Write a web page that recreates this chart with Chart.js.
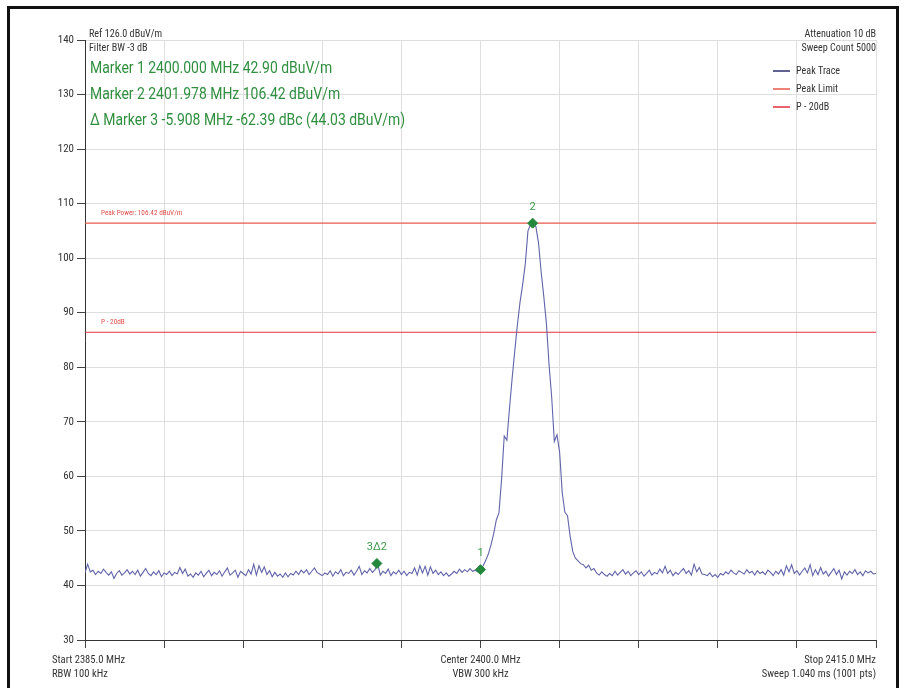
<!DOCTYPE html>
<html>
<head>
<meta charset="utf-8">
<title>Spectrum</title>
<script src="https://cdn.jsdelivr.net/npm/chart.js@4.4.1/dist/chart.umd.min.js"></script>
<style>
  html, body { margin: 0; padding: 0; background: #fff; }
  #wrap { width: 906px; height: 688px; }
</style>
</head>
<body>
<div id="wrap"><canvas id="grafico" width="906" height="688"></canvas></div>
<script>
// sweep settings
const freqStart = 2385.0;
const freqStop = 2415.0;
const freqStep = 0.1;
const xTickStep = 3;
const levelMin = 30;
const levelMax = 140;
const levelStep = 10;

// peak trace, dBuV/m, one value per 0.1 MHz from 2385.0 to 2415.0
const traceLevels = [
  42.3, 43.9, 42.5, 42.8, 42.0, 42.6, 42.2, 43.0, 42.4, 41.9,
  42.5, 41.3, 42.2, 42.7, 41.9, 42.3, 42.9, 42.1, 42.6, 42.0,
  42.8, 41.7, 42.4, 43.1, 42.2, 41.8, 42.5, 42.0, 42.7, 41.6,
  42.3, 42.0, 42.6, 41.8, 42.4, 42.1, 43.3, 42.2, 43.0, 41.7,
  42.1, 41.5, 42.3, 41.9, 42.6, 41.6, 42.2, 42.8, 41.8, 42.4,
  42.0, 42.7, 41.7, 42.5, 43.2, 41.9, 42.3, 42.8, 41.5, 42.6,
  42.2, 41.8, 42.9, 42.1, 43.9, 41.9, 43.6, 42.4, 43.4, 42.0,
  42.7, 41.6, 42.4, 41.7, 42.1, 41.5, 42.3, 41.6, 42.2, 41.9,
  42.6, 42.0, 42.8, 42.3, 42.9, 42.0, 42.6, 43.2, 42.4, 42.1,
  41.8, 42.3, 42.0, 42.7, 41.7, 42.5, 42.1, 42.9, 41.8, 42.4,
  42.2, 42.8, 41.9, 42.6, 43.5, 42.0, 42.7, 42.3, 43.1, 42.4,
  42.9, 44.03, 41.9, 42.6, 42.2, 43.0, 41.8, 42.5, 42.1, 42.8,
  42.0, 42.6, 41.8, 42.4, 42.2, 43.2, 41.9, 43.6, 42.3, 43.5,
  41.9, 43.4, 42.2, 42.8, 42.0, 42.5, 41.8, 42.3, 41.7, 42.1,
  42.6, 42.2, 43.0, 42.4, 42.9, 42.5, 43.1, 42.6, 42.8, 42.5,
  42.9, 43.6, 44.6, 45.8, 47.5, 49.5, 52.0, 53.3, 59.5, 67.4,
  66.6, 72.5, 78.0, 83.0, 87.8, 92.0, 95.2, 99.0, 105.0, 106.2,
  106.42, 105.8, 102.8, 97.5, 93.0, 88.0, 80.5, 74.5, 66.4, 67.6,
  64.5, 57.0, 53.4, 52.8, 49.0, 46.2, 45.0, 44.5, 44.0, 43.8,
  43.2, 43.7, 42.8, 43.1, 42.3, 41.9, 42.5, 42.0, 41.7, 42.2,
  41.8, 42.6, 41.9, 42.4, 42.9, 42.1, 42.6, 41.8, 42.3, 42.7,
  42.0, 42.5, 41.7, 42.2, 42.8, 41.9, 42.4, 42.1, 43.0, 42.3,
  43.5, 42.2, 42.8, 41.8, 42.4, 42.0, 42.6, 43.1, 42.2, 42.7,
  41.9, 43.9, 42.5, 43.3, 42.1, 42.0, 41.8, 42.3, 41.6, 42.0,
  41.5, 42.2, 41.9, 42.5, 42.1, 42.8, 42.3, 42.0, 42.7, 42.4,
  42.1, 42.9, 42.3, 42.6, 41.9, 42.7, 42.2, 42.5, 42.0, 42.8,
  42.4, 41.8, 42.6, 42.1, 42.9, 41.9, 43.6, 42.5, 43.8, 42.2,
  42.7, 41.9, 42.6, 43.2, 42.3, 43.8, 41.8, 42.9, 42.0, 43.3,
  42.1, 42.6, 41.7, 42.4, 43.1, 42.0, 42.8, 41.2, 42.5, 41.9,
  42.6, 42.2, 42.9, 42.0, 42.5, 41.8, 42.7, 42.3, 42.6, 42.1,
  42.2
];

// markers
const markerNames = ["1", "2", "3\u03942"];
const markerFreqs = [2400.000, 2401.978, 2396.070];
const markerLevels = [42.90, 106.42, 44.03];

// limit lines
const peakPower = 106.42;
const peakMinus20 = 86.42;

// header / footer texts
const topLeftInfo = ["Ref 126.0 dBuV/m", "Filter BW -3 dB"];
const topRightInfo = ["Attenuation 10 dB", "Sweep Count 5000"];
const footLeft = ["Start 2385.0 MHz", "RBW 100 kHz"];
const footCenter = ["Center 2400.0 MHz", "VBW 300 kHz"];
const footRight = ["Stop 2415.0 MHz", "Sweep 1.040 ms (1001 pts)"];

const verde = "#23883b";
const fonteFina = "'Liberation Sans Narrow', 'Roboto Condensed', 'DejaVu Sans Condensed', Roboto, sans-serif";
const fonteTexto = "Roboto, 'Open Sans', sans-serif";

let pontosTraco = [];
for (let i = 0; i < traceLevels.length; i++) {
  pontosTraco.push({ x: +(freqStart + i * freqStep).toFixed(1), y: traceLevels[i] });
}

let pontosMarcador = [];
for (let i = 0; i < markerFreqs.length; i++) {
  pontosMarcador.push({ x: markerFreqs[i], y: markerLevels[i] });
}

function linhaFixa(valor) {
  return [{ x: freqStart, y: valor }, { x: freqStop, y: valor }];
}

function textoMarcadores() {
  let linhas = [];
  for (let i = 0; i < 2; i++) {
    linhas.push("Marker " + (i + 1) + " " + markerFreqs[i].toFixed(3) + " MHz " + markerLevels[i].toFixed(2) + " dBuV/m");
  }
  let df = markerFreqs[2] - markerFreqs[1];
  let dl = markerLevels[2] - markerLevels[1];
  linhas.push("\u0394 Marker 3 " + df.toFixed(3) + " MHz " + dl.toFixed(2) + " dBc (" + markerLevels[2].toFixed(2) + " dBuV/m)");
  return linhas;
}

// narrow text: squeeze the normal width a bit
function textoEstreito(ctx, texto, x, y, fator) {
  let w = ctx.measureText(texto).width;
  ctx.fillText(texto, x, y, w * fator);
}

// everything the analyzer prints around the plot
const anotacoes = {
  id: "anotacoes",
  beforeDraw(chart) {
    const ctx = chart.ctx;
    ctx.save();
    ctx.fillStyle = "#fff";
    ctx.fillRect(0, 0, chart.width, chart.height);
    ctx.strokeStyle = "#111";
    ctx.lineWidth = 3;
    ctx.strokeRect(8.5, 7.5, 889, 700);
    ctx.restore();
  },
  afterDatasetsDraw(chart) {
    const ctx = chart.ctx;
    const area = chart.chartArea;
    const sx = chart.scales.x;
    const sy = chart.scales.y;
    ctx.save();

    // small header texts
    ctx.fillStyle = "#333";
    ctx.font = "11px " + fonteFina;
    ctx.textBaseline = "middle";
    ctx.textAlign = "left";
    textoEstreito(ctx, topLeftInfo[0], area.left + 4, 34, 0.92);
    textoEstreito(ctx, topLeftInfo[1], area.left + 4, 48, 0.92);
    ctx.textAlign = "right";
    textoEstreito(ctx, topRightInfo[0], area.right, 34, 0.92);
    textoEstreito(ctx, topRightInfo[1], area.right, 48, 0.92);

    // marker readout
    ctx.fillStyle = "#2f8f3f";
    ctx.font = "17px " + fonteTexto;
    ctx.textAlign = "left";
    let linhas = textoMarcadores();
    for (let i = 0; i < linhas.length; i++) {
      textoEstreito(ctx, linhas[i], area.left + 5, 69 + i * 26, 0.82);
    }

    // legend
    ctx.font = "11px " + fonteFina;
    let ly = 71;
    chart.data.datasets.forEach(function (ds) {
      if (ds.semLegenda) return;
      ctx.strokeStyle = ds.corLegenda || ds.borderColor;
      ctx.lineWidth = 1.5;
      ctx.beginPath();
      ctx.moveTo(773, ly);
      ctx.lineTo(790, ly);
      ctx.stroke();
      ctx.fillStyle = "#333";
      ctx.textAlign = "left";
      textoEstreito(ctx, ds.label, 796, ly, 0.92);
      ly += 18;
    });

    // limit line captions
    ctx.font = "8px " + fonteFina;
    ctx.fillStyle = "#e0504a";
    textoEstreito(ctx, "Peak Power: " + peakPower.toFixed(2) + " dBuV/m", area.left + 16, sy.getPixelForValue(peakPower) - 10, 0.9);
    textoEstreito(ctx, "P - 20dB", area.left + 16, sy.getPixelForValue(peakMinus20) - 10, 0.9);

    // marker numbers
    ctx.font = "11px " + fonteTexto;
    ctx.fillStyle = "#3a9a4a";
    ctx.textAlign = "center";
    for (let i = 0; i < markerNames.length; i++) {
      let px = sx.getPixelForValue(markerFreqs[i]);
      let py = sy.getPixelForValue(markerLevels[i]);
      ctx.fillText(markerNames[i], px, py - 16);
    }

    // footer
    ctx.fillStyle = "#333";
    ctx.font = "11px " + fonteFina;
    ctx.textAlign = "left";
    textoEstreito(ctx, footLeft[0], 52, 660, 0.96);
    textoEstreito(ctx, footLeft[1], 52, 674, 0.96);
    ctx.textAlign = "center";
    textoEstreito(ctx, footCenter[0], (area.left + area.right) / 2, 660, 0.96);
    textoEstreito(ctx, footCenter[1], (area.left + area.right) / 2, 674, 0.96);
    ctx.textAlign = "right";
    textoEstreito(ctx, footRight[0], area.right, 660, 0.96);
    textoEstreito(ctx, footRight[1], area.right, 674, 0.96);

    ctx.restore();
  },
};

new Chart(document.getElementById("grafico"), {
  type: "line",
  data: {
    datasets: [
      {
        label: "Markers",
        data: pontosMarcador,
        showLine: false,
        pointStyle: "rectRot",
        pointRadius: 5,
        pointBackgroundColor: verde,
        pointBorderColor: verde,
        semLegenda: true,
      },
      {
        label: "Peak Trace",
        data: pontosTraco,
        borderColor: "#6164aa",
        corLegenda: "#2c2e6e",
        borderWidth: 1.1,
        pointRadius: 0,
        tension: 0,
      },
      {
        label: "Peak Limit",
        data: linhaFixa(peakPower),
        borderColor: "#e9584c",
        borderWidth: 1.2,
        pointRadius: 0,
      },
      {
        label: "P - 20dB",
        data: linhaFixa(peakMinus20),
        borderColor: "#e3303c",
        borderWidth: 1.2,
        pointRadius: 0,
      },
    ],
  },

  plugins: [anotacoes],

  options: {
    responsive: false,
    animation: false,
    devicePixelRatio: 1,
    layout: {
      padding: { left: 0, top: 40, right: 30, bottom: 0 },
    },
    plugins: {
      legend: { display: false },
      tooltip: { enabled: false },
    },
    scales: {
      x: {
        type: "linear",
        min: freqStart,
        max: freqStop,
        afterBuildTicks(scale) {
          let t = [];
          for (let f = freqStart; f <= freqStop + 0.001; f += xTickStep) t.push({ value: f });
          scale.ticks = t;
        },
        afterFit(scale) {
          scale.height = 48;
        },
        ticks: { display: false },
        grid: {
          color: "#dedede",
          tickColor: "#444",
          tickLength: 8,
        },
        border: { color: "#333", width: 1 },
      },
      y: {
        min: levelMin,
        max: levelMax,
        afterFit(scale) {
          scale.width = 85;
        },
        ticks: {
          stepSize: levelStep,
          color: "#333",
          padding: 3,
          font: { size: 11, family: fonteFina },
        },
        grid: {
          color: "#dedede",
          tickColor: "#444",
          tickLength: 8,
        },
        border: { color: "#333", width: 1 },
      },
    },
  },
});
</script>
</body>
</html>
